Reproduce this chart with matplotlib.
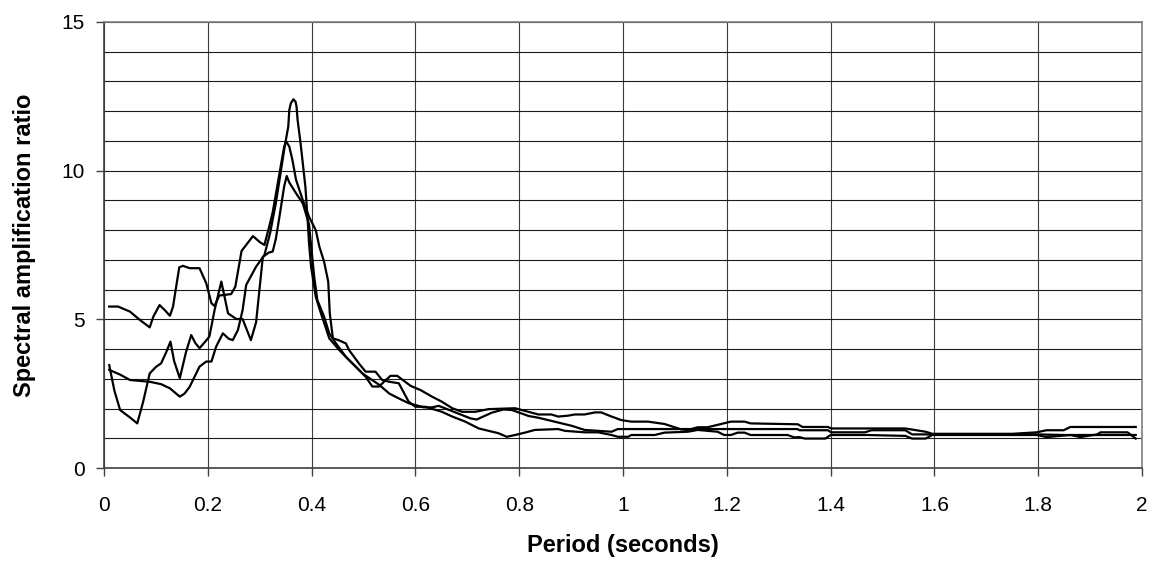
import matplotlib
matplotlib.use("Agg")
import matplotlib.pyplot as plt
from matplotlib.ticker import MultipleLocator

plt.rcParams['font.family'] = ['Liberation Sans', 'DejaVu Sans']

# --- data (period in s, amplification ratio) ---
# curve that starts near 5.4
periodoA = [0.010, 0.027, 0.050, 0.069, 0.088, 0.095, 0.107, 0.117, 0.127, 0.133,
            0.140, 0.145, 0.152, 0.165, 0.184, 0.197, 0.207, 0.213, 0.222, 0.245,
            0.253, 0.265, 0.287, 0.300, 0.309, 0.318, 0.325, 0.333, 0.341, 0.347,
            0.351, 0.357, 0.363, 0.370, 0.383, 0.395, 0.408, 0.415, 0.424, 0.432,
            0.435, 0.441, 0.452, 0.466, 0.472, 0.491, 0.504, 0.523, 0.536, 0.550,
            0.568, 0.587, 0.600, 0.619, 0.651, 0.671, 0.696, 0.722, 0.760, 0.776,
            0.792, 0.811, 0.830, 0.875, 0.888, 0.926, 0.952, 0.978, 0.990, 1.010,
            1.016, 1.061, 1.080, 1.125, 1.144, 1.182, 1.195, 1.208, 1.221, 1.234,
            1.246, 1.317, 1.330, 1.340, 1.350, 1.390, 1.400, 1.470, 1.544, 1.557,
            1.583, 1.596, 1.750, 1.797, 1.816, 1.862, 1.881, 1.914, 1.920, 1.972,
            1.988]
ratioA = [5.43, 5.43, 5.26, 4.98, 4.73, 5.09, 5.48, 5.31, 5.12, 5.43,
          6.21, 6.75, 6.80, 6.72, 6.72, 6.21, 5.54, 5.45, 5.80, 5.85,
          6.10, 7.30, 7.80, 7.60, 7.50, 8.10, 8.60, 9.40, 10.20, 10.80,
          10.98, 10.81, 10.36, 9.69, 9.01, 8.45, 8.00, 7.44, 6.94, 6.27,
          5.20, 4.36, 4.30, 4.19, 3.97, 3.52, 3.24, 3.24, 2.96, 2.90,
          2.85, 2.23, 2.06, 2.06, 1.89, 1.73, 1.56, 1.33, 1.17, 1.05,
          1.11, 1.19, 1.28, 1.31, 1.25, 1.20, 1.20, 1.11, 1.05, 1.05,
          1.11, 1.11, 1.19, 1.22, 1.28, 1.22, 1.11, 1.11, 1.19, 1.19,
          1.11, 1.11, 1.03, 1.04, 0.99, 0.99, 1.11, 1.11, 1.08, 0.99,
          0.99, 1.11, 1.11, 1.11, 1.04, 1.11, 1.04, 1.13, 1.20, 1.20,
          0.99]

# curve that dips to 1.5
periodoB = [0.010, 0.020, 0.031, 0.050, 0.064, 0.075, 0.088, 0.100, 0.110, 0.120,
            0.128, 0.135, 0.146, 0.158, 0.168, 0.176, 0.184, 0.195, 0.203, 0.213,
            0.226, 0.239, 0.255, 0.267, 0.283, 0.293, 0.306, 0.318, 0.325, 0.331,
            0.338, 0.347, 0.352, 0.357, 0.370, 0.383, 0.395, 0.400, 0.405, 0.411,
            0.424, 0.434, 0.447, 0.466, 0.485, 0.504, 0.517, 0.530, 0.543, 0.552,
            0.565, 0.591, 0.610, 0.632, 0.651, 0.671, 0.690, 0.715, 0.741, 0.792,
            0.805, 0.837, 0.862, 0.875, 0.894, 0.907, 0.926, 0.946, 0.958, 0.978,
            0.997, 1.016, 1.048, 1.080, 1.112, 1.125, 1.144, 1.163, 1.189, 1.208,
            1.234, 1.246, 1.337, 1.346, 1.395, 1.401, 1.544, 1.583, 1.596, 1.750,
            1.797, 1.816, 1.849, 1.862, 1.988]
ratioB = [3.46, 2.60, 1.95, 1.70, 1.50, 2.20, 3.18, 3.40, 3.52, 3.90,
          4.25, 3.60, 3.02, 3.90, 4.47, 4.20, 4.03, 4.25, 4.42, 5.31,
          6.27, 5.20, 5.01, 5.01, 4.30, 4.90, 7.10, 7.25, 7.28, 7.70,
          8.45, 9.46, 9.82, 9.60, 9.24, 8.90, 8.20, 7.30, 6.43, 5.65,
          5.09, 4.53, 4.19, 3.74, 3.41, 3.07, 2.74, 2.74, 2.96, 3.10,
          3.10, 2.76, 2.62, 2.40, 2.23, 2.01, 1.89, 1.89, 1.98, 2.01,
          1.95, 1.80, 1.80, 1.73, 1.76, 1.80, 1.80, 1.87, 1.87, 1.73,
          1.61, 1.56, 1.56, 1.48, 1.30, 1.28, 1.37, 1.37, 1.48, 1.56,
          1.56, 1.50, 1.47, 1.38, 1.38, 1.33, 1.33, 1.22, 1.15, 1.15,
          1.20, 1.27, 1.27, 1.38, 1.38]

# curve with the 12.4 peak
periodoC = [0.010, 0.030, 0.050, 0.088, 0.110, 0.127, 0.146, 0.155, 0.165, 0.184,
            0.197, 0.207, 0.216, 0.229, 0.240, 0.248, 0.258, 0.267, 0.274, 0.293,
            0.309, 0.320, 0.331, 0.340, 0.348, 0.355, 0.357, 0.360, 0.365, 0.369,
            0.371, 0.373, 0.378, 0.383, 0.388, 0.392, 0.395, 0.399, 0.408, 0.418,
            0.434, 0.453, 0.472, 0.498, 0.530, 0.550, 0.568, 0.587, 0.616, 0.632,
            0.645, 0.674, 0.706, 0.718, 0.747, 0.770, 0.786, 0.818, 0.837, 0.875,
            0.901, 0.926, 0.978, 0.990, 1.336, 1.340, 1.395, 1.401, 1.466, 1.479,
            1.544, 1.557, 1.797, 1.850, 1.988]
ratioC = [3.30, 3.15, 2.96, 2.90, 2.82, 2.68, 2.40, 2.50, 2.73, 3.41,
          3.58, 3.58, 4.08, 4.53, 4.35, 4.30, 4.64, 5.31, 6.16, 6.77,
          7.16, 7.90, 8.90, 9.90, 10.80, 11.48, 12.04, 12.27, 12.40, 12.32,
          12.15, 11.70, 11.03, 10.25, 9.46, 8.45, 7.56, 6.77, 5.76, 5.20,
          4.36, 3.97, 3.63, 3.18, 2.80, 2.50, 2.34, 2.18, 2.04, 2.04,
          2.09, 1.89, 1.67, 1.63, 1.86, 1.97, 1.95, 1.75, 1.69, 1.53,
          1.42, 1.28, 1.22, 1.31, 1.31, 1.27, 1.27, 1.20, 1.20, 1.27,
          1.27, 1.13, 1.13, 1.11, 1.11]

xticks = [0, 0.2, 0.4, 0.6, 0.8, 1, 1.2, 1.4, 1.6, 1.8, 2]
xlabels = ['0', '0.2', '0.4', '0.6', '0.8', '1', '1.2', '1.4', '1.6', '1.8', '2']
yticks = [0, 5, 10, 15]

fig = plt.figure(figsize=(11.52, 5.67), dpi=100)
ax = fig.add_axes([0.0903, 0.1746, 0.9010, 0.7866])

for px, ry in [(periodoA, ratioA), (periodoB, ratioB), (periodoC, ratioC)]:
    ax.plot(px, ry, color='black', linewidth=1.6, zorder=3)

ax.set_xlim(0, 2)
ax.set_ylim(0, 15)
ax.set_xticks(xticks)
ax.set_xticklabels(xlabels)
ax.set_yticks(yticks)
ax.yaxis.set_minor_locator(MultipleLocator(1))

ax.grid(True, which='major', axis='x', color='#3a3a3a', linewidth=0.8)
ax.grid(True, which='both', axis='y', color='#1a1a1a', linewidth=0.8)
ax.set_axisbelow(True)

ax.tick_params(axis='both', which='major', direction='out', length=6, width=1,
               color='#404040', labelsize=15)
ax.tick_params(axis='x', pad=14)
ax.tick_params(axis='y', pad=8)
ax.tick_params(axis='y', which='minor', length=0)

for s in ['left', 'bottom']:
    ax.spines[s].set_color('#404040')
    ax.spines[s].set_linewidth(1.2)
for s in ['top', 'right']:
    ax.spines[s].set_color('#808080')
    ax.spines[s].set_linewidth(1.2)

ax.set_xlabel('Period (seconds)', fontsize=17, fontweight='bold', labelpad=14)
ax.set_ylabel('Spectral amplification ratio', fontsize=17, fontweight='bold', labelpad=18)

fig.savefig('out.png', dpi=100)
